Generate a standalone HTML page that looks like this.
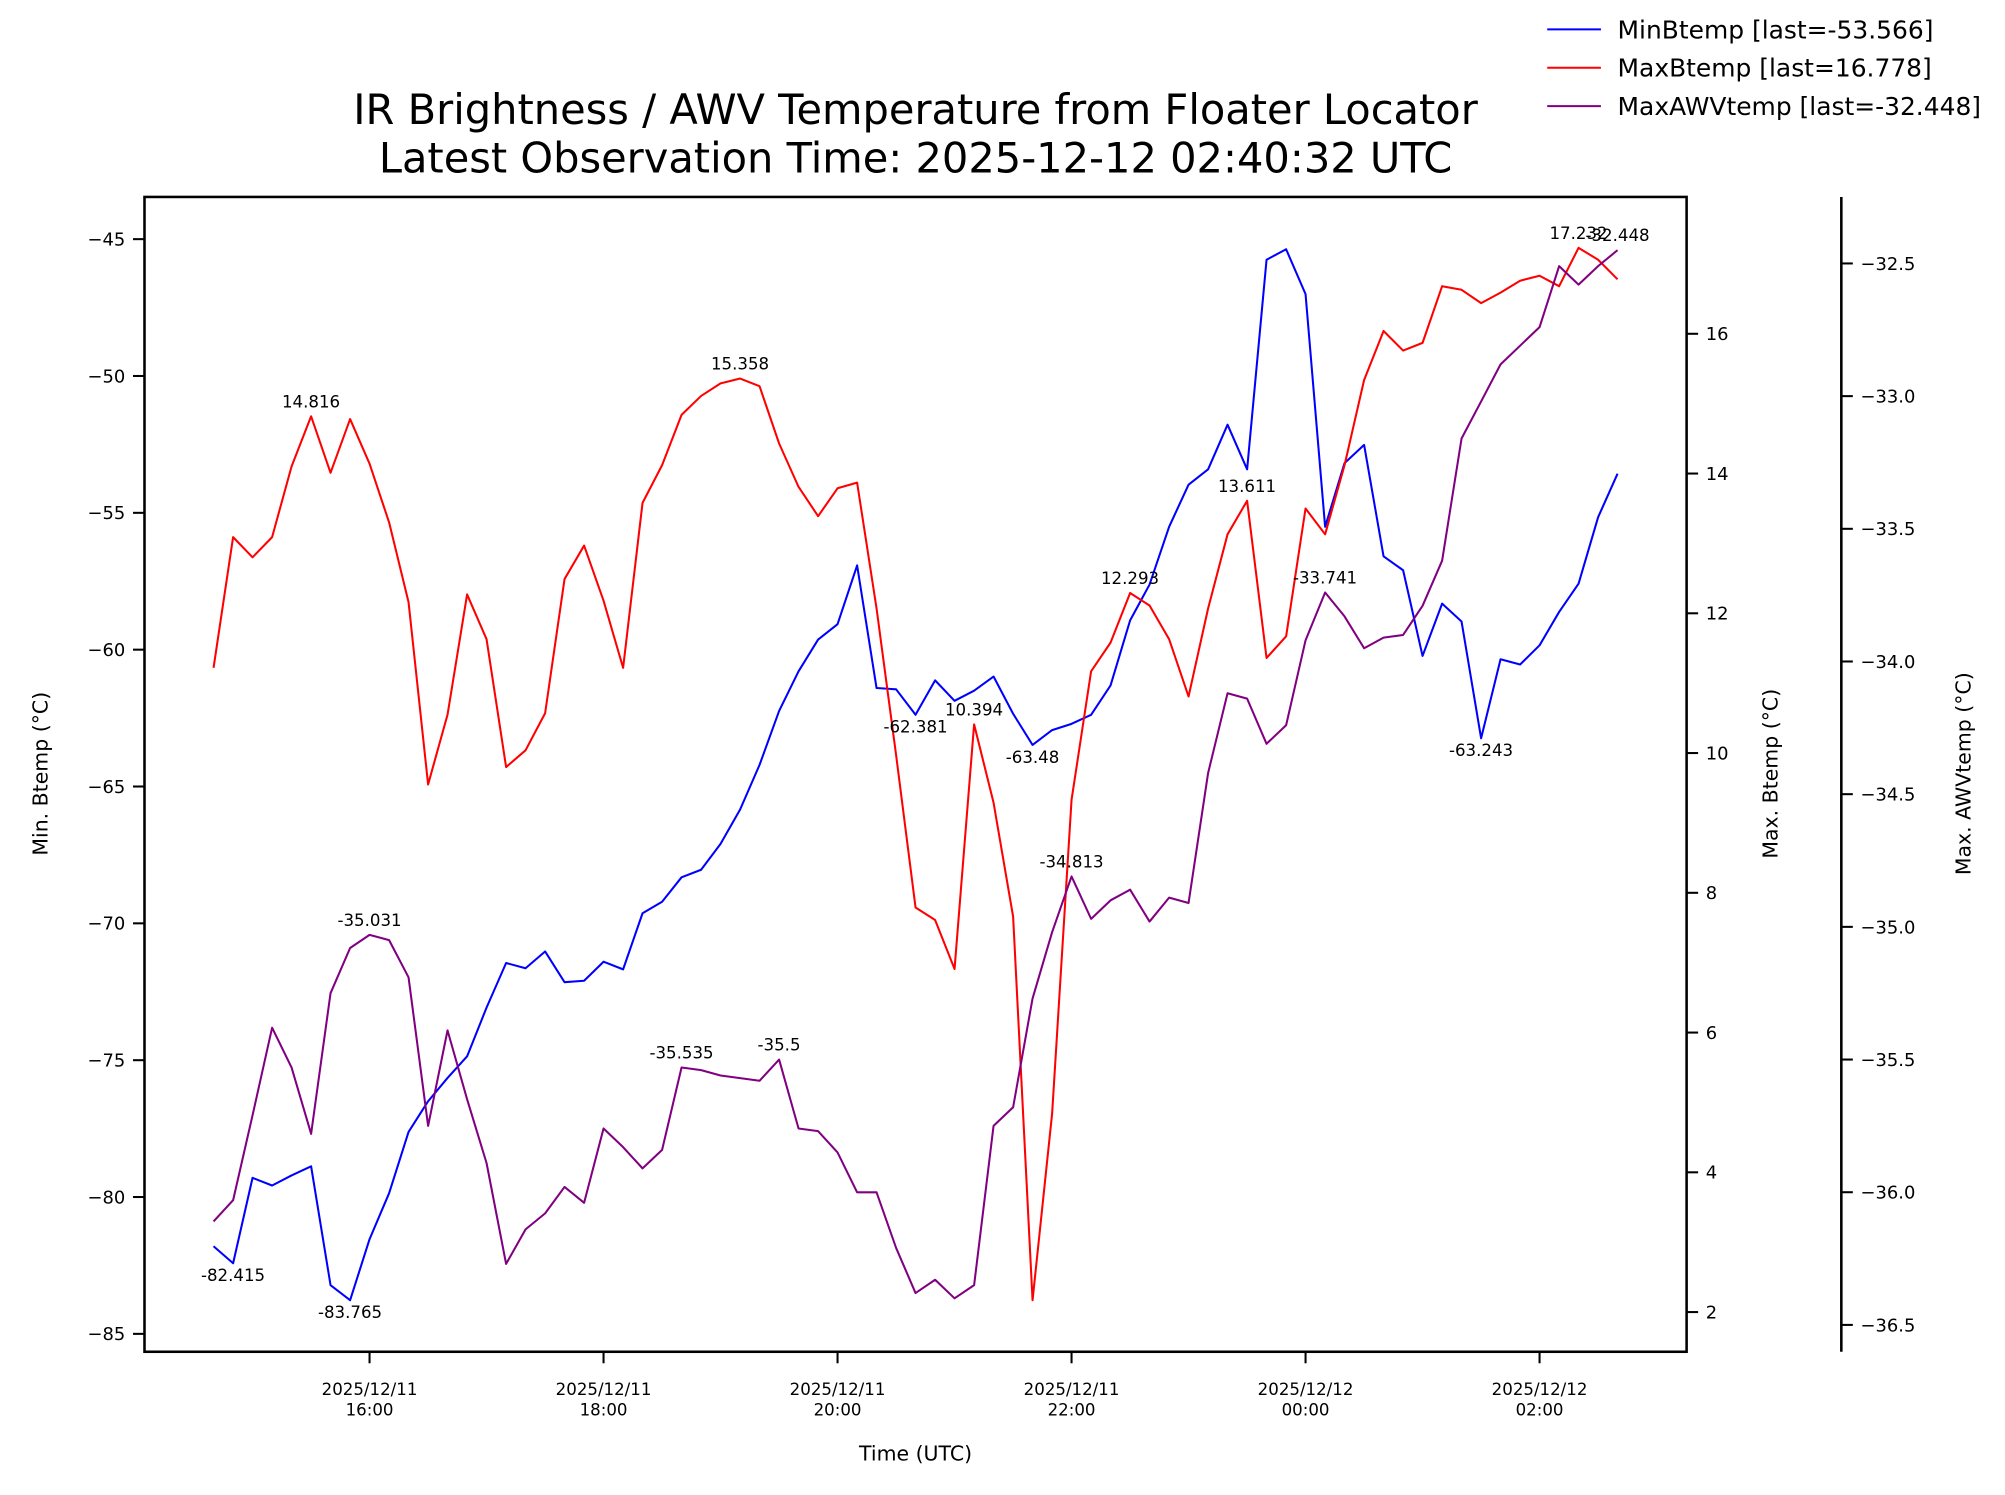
<!DOCTYPE html>
<html><head><meta charset="utf-8"><style>html,body{margin:0;padding:0;background:#fff}svg{display:block}text{font-family:"DejaVu Sans","Liberation Sans",sans-serif}</style></head>
<body>
<svg id="chart" xmlns="http://www.w3.org/2000/svg" width="2005" height="1495" viewBox="0 0 1568 1169" preserveAspectRatio="none">
<rect width="1568" height="1169" fill="#fff"/>
<text x="716" y="97" font-size="32.5" text-anchor="middle">IR Brightness / AWV Temperature from Floater Locator</text>
<text x="716" y="135" font-size="32.5" text-anchor="middle">Latest Observation Time: 2025-12-12 02:40:32 UTC</text>
<g id="marks"></g>
<rect x="113" y="154" width="1206" height="903" fill="none" stroke="#000" stroke-width="2"/>
<line x1="1440" y1="154" x2="1440" y2="1057" stroke="#000" stroke-width="2"/>
<g id="axes"></g>
<text x="716" y="1142" font-size="16" text-anchor="middle">Time (UTC)</text>
<text transform="translate(37,605) rotate(-90)" font-size="16" text-anchor="middle">Min. Btemp (°C)</text>
<text transform="translate(1390,605) rotate(-90)" font-size="16" text-anchor="middle">Max. Btemp (°C)</text>
<text transform="translate(1541,605) rotate(-90)" font-size="16" text-anchor="middle">Max. AWVtemp (°C)</text>
<g>
<line x1="1210" y1="23" x2="1252" y2="23" stroke="#0000ff" stroke-width="1.6"/>
<text x="1265" y="30" font-size="19.5">MinBtemp [last=-53.566]</text>
<line x1="1210" y1="53" x2="1252" y2="53" stroke="#ff0000" stroke-width="1.6"/>
<text x="1265" y="60" font-size="19.5">MaxBtemp [last=16.778]</text>
<line x1="1210" y1="83" x2="1252" y2="83" stroke="#800080" stroke-width="1.6"/>
<text x="1265" y="90" font-size="19.5">MaxAWVtemp [last=-32.448]</text>
</g>
</svg>
<script>
// minutes since 14:40 UTC, step 10 min
const minBtemp=[-81.80,-82.42,-79.30,-79.58,-79.21,-78.88,-83.22,-83.77,-81.54,-79.86,-77.62,-76.50,-75.65,-74.86,-73.08,-71.45,-71.64,-71.03,-72.15,-72.10,-71.40,-71.68,-69.63,-69.21,-68.32,-68.04,-67.10,-65.84,-64.21,-62.24,-60.79,-59.63,-59.07,-56.92,-61.40,-61.45,-62.38,-61.12,-61.87,-61.50,-60.98,-62.34,-63.48,-62.94,-62.71,-62.38,-61.31,-58.93,-57.62,-55.51,-53.97,-53.41,-51.78,-53.41,-45.75,-45.37,-47.01,-55.51,-53.18,-52.52,-56.59,-57.10,-60.23,-58.32,-58.97,-63.24,-60.35,-60.54,-59.84,-58.62,-57.59,-55.16,-53.57];
const maxBtemp=[11.22,13.09,12.80,13.09,14.10,14.82,14.01,14.78,14.14,13.30,12.16,9.55,10.55,12.27,11.63,9.80,10.04,10.57,12.49,12.97,12.18,11.22,13.58,14.12,14.84,15.11,15.29,15.36,15.25,14.43,13.81,13.39,13.79,13.87,12.07,9.97,7.79,7.61,6.91,10.41,9.29,7.66,2.17,4.84,9.33,11.17,11.58,12.29,12.11,11.63,10.81,12.07,13.13,13.61,11.36,11.67,13.50,13.13,14.12,15.34,16.04,15.76,15.87,16.68,16.63,16.44,16.59,16.76,16.83,16.68,17.23,17.06,16.78];
const awvTemp=[-36.11,-36.03,-35.71,-35.38,-35.53,-35.78,-35.25,-35.08,-35.03,-35.05,-35.19,-35.75,-35.39,-35.65,-35.89,-36.27,-36.14,-36.08,-35.98,-36.04,-35.76,-35.83,-35.91,-35.84,-35.53,-35.54,-35.56,-35.57,-35.58,-35.50,-35.76,-35.77,-35.85,-36.00,-36.00,-36.21,-36.38,-36.33,-36.40,-36.35,-35.75,-35.68,-35.27,-35.02,-34.81,-34.97,-34.90,-34.86,-34.98,-34.89,-34.91,-34.42,-34.12,-34.14,-34.31,-34.24,-33.92,-33.74,-33.83,-33.95,-33.91,-33.90,-33.79,-33.62,-33.16,-33.02,-32.88,-32.81,-32.74,-32.51,-32.58,-32.51,-32.45];
const xTickLabels=["2025/12/11|16:00","2025/12/11|18:00","2025/12/11|20:00","2025/12/11|22:00","2025/12/12|00:00","2025/12/12|02:00"];
const xTickMinutes=[80,200,320,440,560,680];
const minTicks=[-45,-50,-55,-60,-65,-70,-75,-80,-85];
const maxTicks=[2,4,6,8,10,12,14,16];
const awvTicks=[-32.5,-33.0,-33.5,-34.0,-34.5,-35.0,-35.5,-36.0,-36.5];
const annSeries=["min","min","max","awv","max","awv","awv","min","max","min","awv","max","max","awv","min","max","awv"];
const annIndex=[1,7,5,8,27,24,29,36,39,42,44,47,53,57,65,70,72];
const annText=["-82.415","-83.765","14.816","-35.031","15.358","-35.535","-35.5","-62.381","10.394","-63.48","-34.813","12.293","13.611","-33.741","-63.243","17.232","-32.448"];
const annBelow=[true,true,false,false,false,false,false,true,false,true,false,false,false,false,true,false,false];

const NS="http://www.w3.org/2000/svg";
const xS=m=>167+(m)*(1098/720);
const yMin=v=>187+(-45-v)*21.4;
const yMax=v=>261+(16-v)*54.64;
const yAwv=v=>206+(-32.5-v)*207.5;
const marks=document.getElementById('marks'), axes=document.getElementById('axes');
function mk(tag,attrs,parent){const e=document.createElementNS(NS,tag);for(const k in attrs)e.setAttribute(k,attrs[k]);parent.appendChild(e);return e;}
function line(data,ys,color,name){
  const pts=data.map((v,i)=>xS(i*10).toFixed(1)+','+ys(v).toFixed(1)).join(' ');
  const p=mk('polyline',{points:pts,fill:'none',stroke:color,'stroke-width':1.6,'stroke-linejoin':'round'},marks);
  
  
}
line(minBtemp,yMin,'#0000ff','series-min-btemp');
line(maxBtemp,yMax,'#ff0000','series-max-btemp');
line(awvTemp,yAwv,'#800080','series-max-awvtemp');
const ser={min:[minBtemp,yMin],max:[maxBtemp,yMax],awv:[awvTemp,yAwv]};
annIndex.forEach((idx,k)=>{
  const [d,ys]=ser[annSeries[k]];
  const y=ys(d[idx])+(annBelow[k]?14:-7);
  const t=mk('text',{x:xS(idx*10),y:y,'font-size':13,'text-anchor':'middle'},marks);
  t.textContent=annText[k];
  
  
});
xTickMinutes.forEach((m,k)=>{
  const x=xS(m);
  const tk=mk('line',{x1:x,y1:1057,x2:x,y2:1066,stroke:'#000','stroke-width':1.6},axes);
  
  
  const parts=xTickLabels[k].split('|');
  parts.forEach((s,j)=>{
    const t=mk('text',{x:x,y:1091+j*16,'font-size':13,'text-anchor':'middle'},axes);
    t.textContent=s;
    
    
  });
});
function yTicks(ticks,ys,x0,dir,fmt,name){
  ticks.forEach(v=>{
    const y=ys(v);
    const tk=mk('line',{x1:x0,y1:y,x2:x0+dir*9,y2:y,stroke:'#000','stroke-width':1.6},axes);
    
    
    const t=mk('text',{x:x0+dir*15,y:y+5,'font-size':14,'text-anchor':dir<0?'end':'start'},axes);
    t.textContent=fmt(v);
    
    
  });
}
const neg=s=>s.replace('-','\u2212');
yTicks(minTicks,yMin,113,-1,v=>neg(String(v)),'y-min');
yTicks(maxTicks,yMax,1319,1,v=>String(v),'y-max');
yTicks(awvTicks,yAwv,1440,1,v=>neg(v.toFixed(1)),'y-awv');
</script>
</body></html>
